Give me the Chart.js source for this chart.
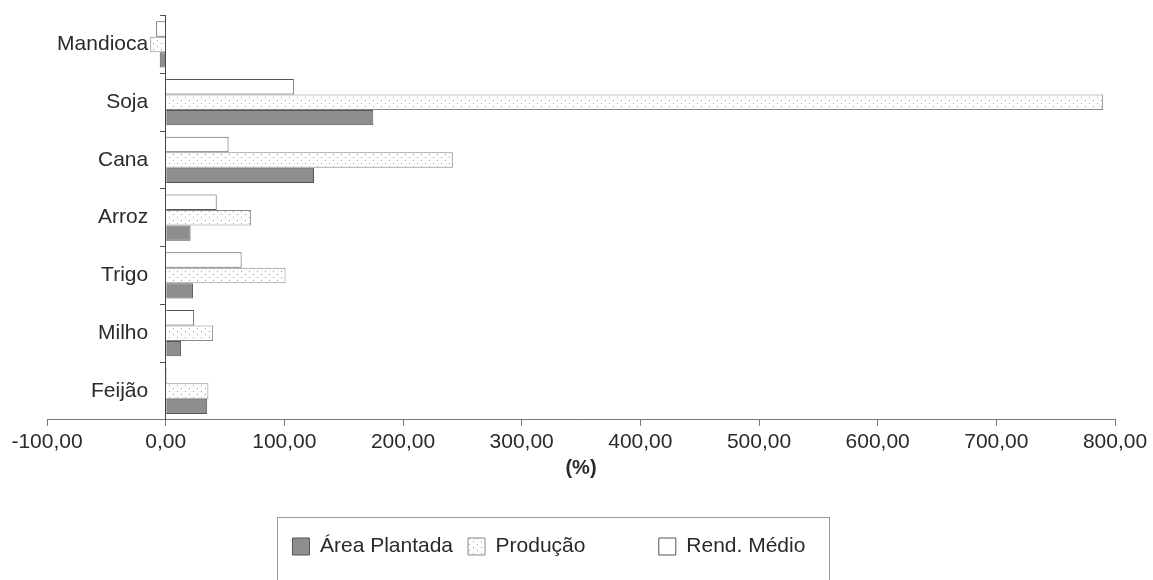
<!DOCTYPE html>
<html>
<head>
<meta charset="utf-8">
<script src="https://cdn.jsdelivr.net/npm/chart.js@4"></script>
<style>
  html, body { margin: 0; padding: 0; background: #fff; }
  #wrap { width: 1153px; height: 580px; }
</style>
</head>
<body>
<div id="wrap"><canvas id="myChart" width="1153" height="580"></canvas></div>
<script>
const culturas = ['Mandioca', 'Soja', 'Cana', 'Arroz', 'Trigo', 'Milho', 'Feijão'];
const areaPlantada = [-5, 175, 125, 21, 23, 13, 35];
const producao = [-13, 790, 242, 72, 101, 40, 36];
const rendMedio = [-8, 108, 53, 43, 64, 24, 1];
const eixoMin = -100;
const eixoMax = 800;

// dotted fill like the original print
function dots() {
    const c = document.createElement('canvas');
    c.width = 8; c.height = 6;
    const g = c.getContext('2d');
    g.fillStyle = '#fdfdfb';
    g.fillRect(0, 0, 8, 6);
    g.fillStyle = '#a0a0a0';
    g.fillRect(1, 1, 1, 1);
    g.fillRect(5, 4, 1, 1);
    return g.createPattern(c, 'repeat');
}

// box round the legend items
const legendBox = {
    id: 'legendBox',
    afterDraw(chart) {
        const ctx = chart.ctx;
        ctx.save();
        ctx.strokeStyle = '#9a9a9a';
        ctx.lineWidth = 1;
        ctx.strokeRect(277.5, 517.5, 552, 80);
        ctx.restore();
    }
};

Chart.defaults.font.family = '"Liberation Sans", Arial, sans-serif';
Chart.defaults.color = '#2a2a2a';

const ctx = document.getElementById('myChart').getContext('2d');
new Chart(ctx, {
    type: 'bar',
    data: {
        labels: culturas,
        datasets: [
            { label: 'Rend. Médio', data: rendMedio, backgroundColor: '#ffffff', borderColor: '#555', borderWidth: 1 },
            { label: 'Produção', data: producao, backgroundColor: dots(), borderColor: '#888', borderWidth: 1 },
            { label: 'Área Plantada', data: areaPlantada, backgroundColor: '#8e8e8e', borderColor: '#555', borderWidth: 1 }
        ]
    },
    options: {
        indexAxis: 'y',
        responsive: false,
        animation: false,
        layout: { padding: { left: 47, right: 38, top: 14, bottom: 13 } },
        datasets: { bar: { categoryPercentage: 0.8, barPercentage: 1.0 } },
        scales: {
            x: {
                min: eixoMin,
                max: eixoMax,
                ticks: {
                    stepSize: 100,
                    font: { size: 21 },
                    padding: 4,
                    callback: v => v.toFixed(2).replace('.', ',')
                },
                grid: { drawOnChartArea: false, tickLength: 6, color: '#777' },
                border: { color: '#777' },
                title: { display: true, text: '(%)', font: { size: 20, weight: 'bold' }, padding: { top: -3, bottom: 41 } }
            },
            y: {
                position: { x: 0 },
                ticks: {
                    font: { size: 21 },
                    // labels sit right on the axis when it is placed at 0, so pad them
                    callback(v) { return this.getLabelForValue(v) + '   '; }
                },
                grid: { drawOnChartArea: false, tickLength: 5, color: '#555', offset: true },
                border: { color: '#444' }
            }
        },
        plugins: {
            legend: {
                position: 'bottom',
                reverse: true,
                labels: {
                    boxWidth: 17, boxHeight: 17, padding: 15, font: { size: 21 }, color: '#2a2a2a',
                    generateLabels(chart) {
                        const items = Chart.defaults.plugins.legend.labels.generateLabels(chart);
                        // the original leaves a wide gap after "Produção" and sits left of centre
                        items.forEach(it => {
                            if (it.text === 'Produção') it.text = 'Produção          ';
                            if (it.text === 'Rend. Médio') it.text = 'Rend. Médio           ';
                        });
                        return items;
                    }
                }
            },
            tooltip: { enabled: false }
        }
    },
    plugins: [legendBox]
});
</script>
</body>
</html>
